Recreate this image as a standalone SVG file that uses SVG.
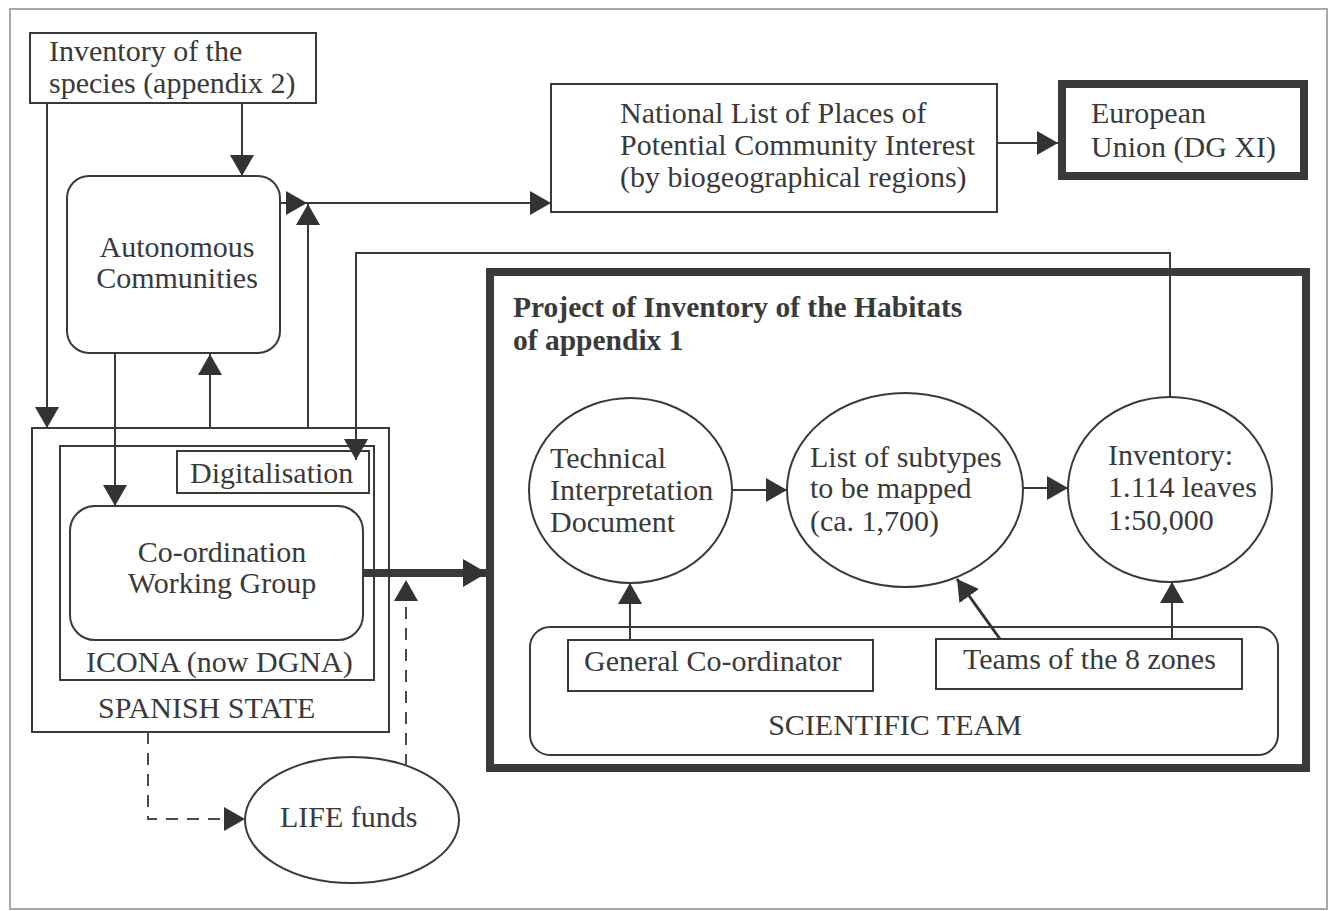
<svg xmlns="http://www.w3.org/2000/svg" width="1329" height="911" viewBox="0 0 1329 911">
<style>
text{font-family:"Liberation Serif","DejaVu Serif",serif;font-size:30px;fill:#3a3a3a}
.b{font-weight:bold;font-size:29.5px}
.m{text-anchor:middle}
.n{fill:#fff;stroke:#3a3a3a;stroke-width:2}
.k{fill:none;stroke:#3a3a3a;stroke-width:8}
.c{fill:none;stroke:#3a3a3a;stroke-width:2}
.d{fill:none;stroke:#4a4a4a;stroke-width:2;stroke-dasharray:12 9}
</style>
<defs>
<marker id="ah" viewBox="0 0 21 24" markerWidth="21" markerHeight="24" refX="21" refY="12" orient="auto" markerUnits="userSpaceOnUse"><path d="M0,0 L21,12 L0,24 z" fill="#333"/></marker>
<marker id="ahT" viewBox="0 0 24 28" markerWidth="24" markerHeight="28" refX="24" refY="14" orient="auto" markerUnits="userSpaceOnUse"><path d="M0,0 L24,14 L0,28 z" fill="#333"/></marker>
</defs>
<rect width="1329" height="911" fill="#fff"/>
<rect x="10" y="9" width="1317" height="900" fill="none" stroke="#a8a8a8" stroke-width="2"/>

<g id="species"><rect class="n" x="30" y="33" width="286" height="70"/><text x="49" y="61">Inventory of the</text><text x="49" y="93">species (appendix 2)</text></g>
<g id="autonomous"><rect class="n" x="67" y="176" width="213" height="177" rx="22"/><text class="m" x="177" y="257">Autonomous</text><text class="m" x="177" y="288">Communities</text></g>
<g id="national"><rect class="n" x="551" y="84" width="446" height="128"/><text x="620" y="123">National List of Places of</text><text x="620" y="155">Potential Community Interest</text><text x="620" y="187">(by biogeographical regions)</text></g>
<g id="eu"><rect x="1062" y="84" width="242" height="92" fill="#fff" stroke="#3a3a3a" stroke-width="8"/><text x="1091" y="123">European</text><text x="1091" y="157">Union (DG XI)</text></g>

<g id="spanish-state"><rect class="n" x="32" y="428" width="357" height="304"/><text x="98" y="718">SPANISH STATE</text></g>
<g id="icona"><rect class="n" x="60" y="446" width="314" height="234"/><text x="86" y="672">ICONA (now DGNA)</text></g>
<g id="digitalisation"><rect class="n" x="177" y="451" width="192" height="42"/><text x="190" y="483">Digitalisation</text></g>
<g id="coordination"><rect class="n" x="70" y="506" width="293" height="134" rx="25"/><text class="m" x="222" y="562">Co-ordination</text><text class="m" x="222" y="593">Working Group</text></g>
<g id="life"><ellipse class="n" cx="352" cy="820" rx="107" ry="63"/><text x="280" y="827">LIFE funds</text></g>

<g id="project"><rect x="490" y="272" width="816" height="496" fill="#fff" stroke="#3a3a3a" stroke-width="8"/><text class="b" x="513" y="317">Project of Inventory of the Habitats</text><text class="b" x="513" y="350">of appendix 1</text></g>
<g id="scientific-team"><rect class="n" x="530" y="627" width="748" height="128" rx="20"/><text class="m" x="895" y="735">SCIENTIFIC TEAM</text></g>
<g id="general-coordinator"><rect class="n" x="568" y="640" width="305" height="51"/><text x="584" y="671">General Co-ordinator</text></g>
<g id="teams"><rect class="n" x="936" y="639" width="306" height="50"/><text x="963" y="669">Teams of the 8 zones</text></g>
<g id="technical"><ellipse class="n" cx="630.5" cy="490.5" rx="101.5" ry="92.5"/><text x="550" y="468">Technical</text><text x="550" y="500">Interpretation</text><text x="550" y="532">Document</text></g>
<g id="subtypes"><ellipse class="n" cx="905" cy="490" rx="118" ry="97"/><text x="810" y="467">List of subtypes</text><text x="810" y="498">to be mapped</text><text x="810" y="531">(ca. 1,700)</text></g>
<g id="inventory"><ellipse class="n" cx="1170" cy="489.5" rx="102" ry="92.5"/><text x="1108" y="465">Inventory:</text><text x="1108" y="497">1.114 leaves</text><text x="1108" y="530">1:50,000</text></g>

<g id="connectors">
<path class="c" d="M242,103 V176" marker-end="url(#ah)"/>
<path class="c" d="M47,103 V428" marker-end="url(#ah)"/>
<path class="c" d="M280,203 H307" marker-end="url(#ah)"/>
<path class="c" d="M308,428 V204" marker-end="url(#ah)"/>
<path class="c" d="M307,203 H551" marker-end="url(#ah)"/>
<path class="c" d="M997,143 H1058" marker-end="url(#ah)"/>
<path class="c" d="M115,353 V506" marker-end="url(#ah)"/>
<path class="c" d="M210,428 V354" marker-end="url(#ah)"/>
<path class="c" d="M1170,397 V253 H356 V460" marker-end="url(#ah)"/>
<path class="k" d="M363,573 H487" marker-end="url(#ahT)"/>
<path class="d" d="M406,766 V580" marker-end="url(#ah)"/>
<path class="d" d="M148,732 V819 H245" marker-end="url(#ah)"/>
<path class="c" d="M732,490 H787" marker-end="url(#ah)"/>
<path class="c" d="M1023,488 H1068" marker-end="url(#ah)"/>
<path class="c" d="M630,640 V583" marker-end="url(#ah)"/>
<path fill="none" stroke="#333" stroke-width="3" d="M1000,639 L957,579" marker-end="url(#ah)"/>
<path class="c" d="M1172,639 V582" marker-end="url(#ah)"/>
</g>
</svg>
